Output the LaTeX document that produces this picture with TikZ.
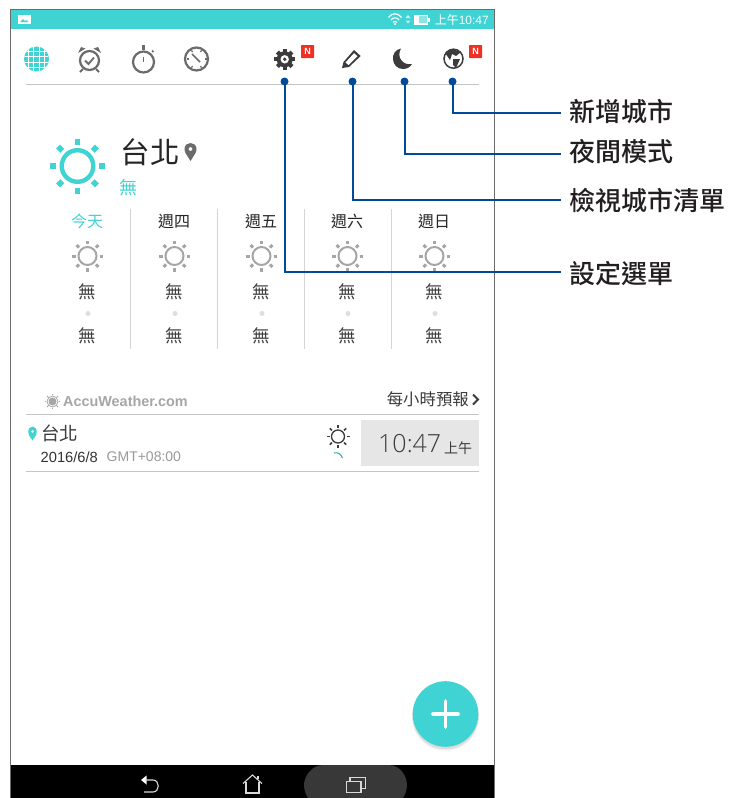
\documentclass[tikz,border=0pt]{standalone}
\usepackage{fontspec}
\setmainfont{Liberation Sans}
\newfontfamily\cjk{Noto Sans CJK TC}
\newfontfamily\cjkb{Noto Sans CJK TC Medium}
\newfontfamily\lightf{Open Sans Light}
\usetikzlibrary{calc,shadows}
\definecolor{teal1}{HTML}{40D3D3}
\definecolor{icong}{HTML}{6B6B6B}
\definecolor{darki}{HTML}{3C3C3C}
\definecolor{sung}{HTML}{A6A6A6}
\definecolor{rulegr}{HTML}{C4C4C4}
\definecolor{callb}{HTML}{004A9A}
\definecolor{frameg}{HTML}{6E6A6A}
\definecolor{badge}{HTML}{EE3124}
\definecolor{timebg}{HTML}{E6E6E6}
\definecolor{labelk}{HTML}{231F20}
\tikzset{
  callout/.style={draw=callb,line width=2pt},
  calldot/.style={circle,fill=callb,inner sep=0pt,minimum size=8pt},
  calllabel/.style={anchor=west,inner sep=0pt,font=\cjkb\fontsize{26}{28}\selectfont,text=labelk},
  cn/.style={inner sep=0pt,font=\cjk\fontsize{#1}{#1}\selectfont},
  badgebox/.style={fill=badge,rounded corners=0.6pt,inner sep=0pt,minimum width=13pt,minimum height=13pt,text=white,font=\bfseries\fontsize{9}{9}\selectfont},
}
% sun icon: x,y,radius,ray-inner,ray-outer,linewidth,raywidth,colour
\newcommand{\sunicon}[8]{%
  \draw[#8,line width=#6pt] (#1,#2) circle[radius=#3];
  \foreach \a in {0,45,...,315}{
    \draw[#8,line width=#7pt] ($(#1,#2)+(\a:#4)$) -- ($(#1,#2)+(\a:#5)$);
  }}
\newcommand{\daycol}[3]{% x, title, colour
  \node[cn=16,text=#3] at (#1,221) {#2};
  \sunicon{#1+0.5}{256}{9}{12}{15.5}{2}{3}{sung}
  \node[cn=17.5,text=darki] at (#1+0.5,292) {無};
  \fill[black!13] (#1+1,313.5) circle[radius=2.5];
  \node[cn=17.5,text=darki] at (#1+0.5,336) {無};
}
\begin{document}
\begin{tikzpicture}[x=1pt,y=-1pt]
\useasboundingbox (0,0) rectangle (730,798);
\fill[white] (0,0) rectangle (730,798);
% screen
\fill[white] (10.5,9.5) rectangle (494,798);
\fill[teal1] (10.5,9.5) rectangle (494,29);
\fill[black] (10.5,765) rectangle (494,798);
\draw[frameg,line width=1pt] (10.5,798) -- (10.5,9.5) -- (494,9.5) -- (494,798);
% status bar
\fill[white] (18,15) rectangle (30.5,24);
\fill[teal1] (20,22) -- (23,19) -- (25,21) -- (26,20) -- (28.5,22) -- cycle;
\begin{scope}[white,line width=1.2pt]
 \draw (388.5,17.5) .. controls (392,12.5) and (398,12.5) .. (401.5,17.5);
 \draw (391,20) .. controls (393,17) and (397,17) .. (399,20);
 \draw (393,22.3) .. controls (394.5,21) and (395.5,21) .. (397,22.3);
 \fill (395,24) circle[radius=1.1];
\end{scope}
\fill[white!70!teal1] (405.5,18) -- (408,15) -- (410.5,18) -- cycle (405.5,20.5) -- (408,23.5) -- (410.5,20.5) -- cycle;
\fill[white] (414,14.5) rectangle (428,24.5);
\fill[teal1!60!white] (419,16) rectangle (427,23);
\fill[white] (428,17.5) rectangle (430,21.5);
\node[cn=12,text=white,anchor=east] at (489,19.5) {上午\fontspec{Liberation Sans}10:47};
% tab icons
\fill[teal1] (36.5,59) circle[radius=12.5];
\begin{scope}
 \clip (36.5,59) circle[radius=12.5];
 \foreach \d in {-8,-3,3,8}{
   \draw[white,line width=1pt] (36.5+\d,46) -- (36.5+\d,72);
   \draw[white,line width=1pt] (24,59+\d) -- (49,59+\d);
 }
\end{scope}
% alarm
\draw[icong,line width=2.2pt] (89.5,60.5) circle[radius=9.5];
\draw[icong,line width=1.8pt] (85,60.5) -- (88.5,64) -- (94,57.5);
\fill[icong] (78,53) -- (81,47) -- (85.5,48.5) -- cycle (101,53) -- (98,47) -- (93.5,48.5) -- cycle;
\draw[icong,line width=1.8pt] (83,69) -- (80,72) (96,69) -- (99,72);
% stopwatch
\draw[icong,line width=2.2pt] (143.5,62) circle[radius=10.5];
\draw[icong,line width=2.6pt] (143.5,45) -- (143.5,50);
\draw[icong,line width=1.6pt] (152,50.5) -- (153.5,52);
\draw[icong,line width=1.6pt] (143.5,57) -- (143.5,62);
% world clock
\draw[icong,line width=2.2pt] (196.5,59) circle[radius=11.5];
\foreach \a in {0,60,...,300} \draw[icong,line width=1.2pt] ($(196.5,59)+(\a:8)$) -- ($(196.5,59)+(\a:10)$);
\draw[icong,line width=1.5pt] (192,54) -- (200,62);
% gear
\foreach \a in {0,45,...,315} \draw[darki,line width=4.2pt] ($(284.7,59.3)+(\a:6)$) -- ($(284.7,59.3)+(\a:10.3)$);
\fill[darki] (284.7,59.3) circle[radius=8];
\fill[white] (284.7,59.3) circle[radius=4.2];
\fill[darki] (284.7,59.3) circle[radius=1.9];
\node[badgebox] (badgeA) at (307.5,51.5) {N};
% pencil
\fill[darki] (342,68) -- (343.5,62) -- (354,50) -- (360.7,56) -- (349,67) -- cycle;
\fill[white] (345.5,62.5) -- (354,53.2) -- (357.5,56.2) -- (348.5,65) -- cycle;
% moon
\fill[darki] (401,48.5) .. controls (389,50.5) and (391,69) .. (403,69) .. controls (407,69) and (410.5,67) .. (412,64) .. controls (403,66) and (396,57) .. (401,48.5) -- cycle;
% globe
\fill[white] (453.5,58.7) circle[radius=10];
\draw[darki,line width=1.5pt] (453.5,58.7) circle[radius=9.5];
\fill[darki] (445,53) -- (452,49) -- (461,52) -- (456,56) -- (452,54) -- (450,60) -- cycle;
\fill[darki] (453,59) -- (460,59) -- (456,68) -- (453,65) -- cycle;
\node[badgebox] (badgeB) at (475.5,51.5) {N};
\draw[rulegr,line width=0.8pt] (26,84.5) -- (479,84.5);
% main weather
\sunicon{77.5}{166}{15.8}{21.5}{27.5}{4.4}{5.6}{teal1}
\node[cn=29.5,text=black!85,anchor=west] at (120.5,152.5) {台北};
\fill[icong,even odd rule] (190.5,161) .. controls (187,155) and (184.5,153) .. (184.5,149) .. controls (184.5,141) and (196.5,141) .. (196.5,149) .. controls (196.5,153) and (194,155) .. (190.5,161) -- cycle (190.5,149) circle[radius=2];
\node[cn=18,text=teal1,anchor=west] at (119,188) {無};
% day columns
\daycol{87}{今天}{teal1}
\daycol{174}{週四}{black!85}
\daycol{261}{週五}{black!85}
\daycol{347}{週六}{black!85}
\daycol{434}{週日}{black!85}
\foreach \x in {130.5,217.5,304.5,391} \draw[black!17,line width=0.8pt] (\x,209) -- (\x,349);
% AccuWeather
\sunicon{52.5}{401.5}{5.5}{6.3}{7.8}{0.8}{1}{sung}
\fill[sung] (52.5,401.5) circle[radius=4];
\node[inner sep=0pt,anchor=west,text=sung,font=\bfseries\fontsize{14.4}{16}\selectfont] at (63,401.5) {AccuWeather.com};
\node[cn=16.4,text=darki,anchor=east] at (469,399) {每小時預報};
\draw[darki,line width=1.8pt] (473,394.5) -- (478,399.5) -- (473,404.5);
\draw[rulegr,line width=0.8pt] (26,414.5) -- (479,414.5);
% city row
\fill[teal1,even odd rule] (32.5,440.5) .. controls (30.5,437) and (28.3,435.5) .. (28.3,431.5) .. controls (28.3,425) and (36.7,425) .. (36.7,431.5) .. controls (36.7,435.5) and (34.5,437) .. (32.5,440.5) -- cycle (32.5,431.5) circle[radius=1.6];
\node[cn=18.5,text=darki,anchor=west] at (41,433) {台北};
\node[inner sep=0pt,anchor=west,text=black!80,font=\fontsize{14.7}{15}\selectfont] at (40.5,457) {2016/6/8};
\node[inner sep=0pt,anchor=west,text=black!40,font=\fontsize{14}{14}\selectfont] at (106.5,457) {GMT+08:00};
\sunicon{338}{436.5}{6.5}{8.5}{11.5}{1.3}{1.5}{darki}
\draw[teal1!85!black,line width=1.1pt] (334,453) .. controls (338,452) and (341,454) .. (342.5,458);
\fill[timebg] (361,420) rectangle (479,466);
\node[inner sep=0pt,anchor=west,text=darki,font=\lightf\fontsize{25}{25}\selectfont] at (378,444) {10:47};
\node[cn=14,text=darki,anchor=west] at (444,448) {上午};
\draw[rulegr,line width=0.8pt] (26,471.5) -- (479,471.5);
% FAB
\fill[black,opacity=0.07] (445.5,717) circle[radius=33.5];
\fill[black,opacity=0.07] (445.5,716) circle[radius=33];
\fill[teal1] (445.5,714) circle[radius=32.8];
\draw[white,line width=3.6pt,line cap=round] (433,714) -- (458,714) (445.5,701) -- (445.5,727);
% nav bar
\fill[black!78] (304,785) .. controls (304,776) and (312,765) .. (323,765) -- (389,765) .. controls (400,765) and (407,776) .. (407,785) .. controls (407,790) and (405,795) .. (403,798) -- (308,798) .. controls (306,795) and (304,790) .. (304,785) -- cycle;
\begin{scope}[black!15,line width=1.1pt]
 \fill[white] (141,780) -- (146.5,775.5) -- (146.5,784.5) -- cycle;
 \draw (145,780) -- (153,780) .. controls (160,780) and (160,792) .. (153,792) -- (144,792);
 \draw (243,783.5) -- (252.5,775) -- (262,783.5);
 \draw (246,782) -- (246,793) -- (259,793) -- (259,782);
 \draw (258,775.5) -- (258,779);
 \draw (346.5,781.5) rectangle (361,792.5);
 \draw (350,781.5) -- (350,777.5) -- (365.5,777.5) -- (365.5,788.5) -- (361,788.5);
\end{scope}
% callouts
\node[calldot] (dotgear) at (284.5,81.5) {};
\node[calldot] (dotpen) at (352.5,81.5) {};
\node[calldot] (dotmoon) at (404.5,81.5) {};
\node[calldot] (dotglobe) at (452.5,81.5) {};
\node[calllabel] (lglobe) at (569,111.5) {新增城市};
\node[calllabel] (lmoon) at (569,152) {夜間模式};
\node[calllabel] (lpen) at (569,201) {檢視城市清單};
\node[calllabel] (lgear) at (569,274) {設定選單};
\coordinate (eglobe) at (561,113.3);
\coordinate (emoon) at (561,153.7);
\coordinate (epen) at (561,199.7);
\coordinate (egear) at (561,271.7);
\draw[callout] (dotgear.center) |- (egear);
\draw[callout] (dotpen.center) |- (epen);
\draw[callout] (dotmoon.center) |- (emoon);
\draw[callout] (dotglobe.center) |- (eglobe);
\end{tikzpicture}
\end{document}
